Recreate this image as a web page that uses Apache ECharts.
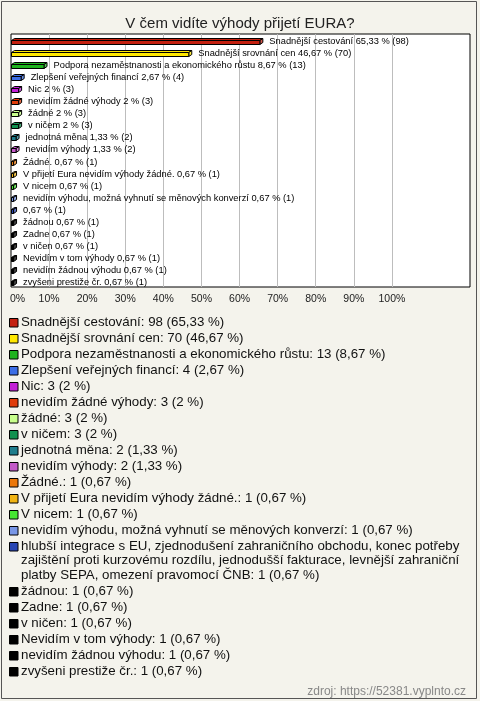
<!DOCTYPE html>
<html><head><meta charset="utf-8">
<script src="https://cdn.jsdelivr.net/npm/echarts@6/dist/echarts.min.js"></script>
<style>html,body{margin:0;padding:0;background:#f4f3ec}#c{width:480px;height:701px}</style>
</head><body><div id="c"></div>
<script>
const titleText = 'V čem vidíte výhody přijetí EURA?';
const sourceText = 'zdroj: https://52381.vyplnto.cz';
const categories = [
  'Snadnější cestování',
  'Snadnější srovnání cen',
  'Podpora nezaměstnanosti a ekonomického růstu',
  'Zlepšení veřejných financí',
  'Nic',
  'nevidím žádné výhody',
  'žádné',
  'v ničem',
  'jednotná měna',
  'nevidím výhody',
  'Žádné.',
  'V přijetí Eura nevidím výhody žádné.',
  'V nicem',
  'nevidím výhodu, možná vyhnutí se měnových konverzí',
  'hlubší integrace s EU, zjednodušení zahraničního obchodu, konec potřeby zajištění proti kurzovému rozdílu, jednodušší fakturace, levnější zahraniční platby SEPA, omezení pravomocí ČNB',
  'žádnou',
  'Zadne',
  'v ničen',
  'Nevidím v tom výhody',
  'nevidím žádnou výhodu',
  'zvyšeni prestiže čr.'
];
const counts = [98, 70, 13, 4, 3, 3, 3, 3, 2, 2, 1, 1, 1, 1, 1, 1, 1, 1, 1, 1, 1];
const percents = [65.33, 46.67, 8.67, 2.67, 2, 2, 2, 2, 1.33, 1.33, 0.67, 0.67, 0.67, 0.67, 0.67, 0.67, 0.67, 0.67, 0.67, 0.67, 0.67];
const colors = ['#c4200f', '#ffe800', '#1fb31f', '#3c6ee6', '#c21fd6', '#e03c0a', '#c8ff8c', '#129150', '#1f7d8c', '#c35ac8', '#eb780a', '#f0b414', '#46e632', '#7896e6', '#2846b4', '#000000', '#000000', '#000000', '#000000', '#000000', '#000000'];
const xTickValues = [0, 10, 20, 30, 40, 50, 60, 70, 80, 90, 100];

const FONT = '"Liberation Sans", Arial, sans-serif';
function fmt(p) { return String(p).replace('.', ','); }
function barLabel(i) {
  const n = categories[i].length > 80 ? '' : categories[i] + ' ';
  return n + fmt(percents[i]) + ' % (' + counts[i] + ')';
}
function legendLabel(i) {
  return categories[i] + ': ' + counts[i] + ' (' + fmt(percents[i]) + ' %)';
}

// word wrap with canvas measurement
const LFONT = '13.3px ' + FONT;
const mctx = document.createElement('canvas').getContext('2d');
mctx.font = LFONT;
function wrap(text, maxW) {
  const words = text.split(' ');
  const lines = [];
  let cur = '';
  words.forEach(function (w) {
    const t = cur ? cur + ' ' + w : w;
    if (cur && mctx.measureText(t).width > maxW) { lines.push(cur); cur = w; }
    else cur = t;
  });
  if (cur) lines.push(cur);
  return lines;
}

// legend built as graphic (icon aligned to first line of wrapped text)
const LH = 14.5, GAP = 1.5, TW = 455;
const legendEls = [];
let y = 314.75;
categories.forEach(function (c, i) {
  const lines = wrap(legendLabel(i), TW);
  const yc = y + LH / 2;
  legendEls.push({ type: 'rect', shape: { x: 9.5, y: Math.round(yc - 4.5) + 0.5, width: 8.5, height: 8.5 }, style: { fill: colors[i], stroke: '#000', lineWidth: 1 }, z: 10 });
  legendEls.push({ type: 'text', x: 21, y: y, style: { text: lines.join('\n'), font: LFONT, lineHeight: LH, fill: '#111', verticalAlign: 'top' }, z: 10 });
  y += lines.length * LH + GAP;
});

const XMAX = 120.5;
const splitColors = xTickValues.slice(1).map(function () { return '#bdbdbd'; }).concat(['rgba(0,0,0,0)', 'rgba(0,0,0,0)', 'rgba(0,0,0,0)']);

const chart = echarts.init(document.getElementById('c'), null, { renderer: 'canvas' });
chart.setOption({
  backgroundColor: '#f4f3ec',
  animation: false,
  title: [
    { text: titleText, left: 'center', top: 11, textStyle: { fontSize: 15, fontWeight: 'normal', color: '#222', fontFamily: FONT } },
    { text: sourceText, right: 9, top: 681, textStyle: { fontSize: 12, fontWeight: 'normal', color: '#888', fontFamily: FONT } }
  ],
  grid: { left: 11, right: 10, top: 34, bottom: 414, show: true, backgroundColor: '#fff', borderColor: '#000', borderWidth: 1 },
  xAxis: {
    type: 'value', min: 0, max: XMAX, interval: 10,
    axisLine: { show: false }, axisTick: { show: false },
    splitLine: { show: true, showMinLine: false, showMaxLine: false, lineStyle: { color: splitColors, width: 1 } },
    axisLabel: {
      margin: 7, color: '#222', fontSize: 10.5, fontFamily: FONT,
      formatter: function (v) {
        if (v === 0) return '{z|0%}';
        return xTickValues.indexOf(v) >= 0 ? v + '%' : '';
      },
      rich: { z: { fontSize: 10.5, fontFamily: FONT, color: '#222', padding: [0, 0, 0, 13] } }
    }
  },
  yAxis: {
    type: 'category', inverse: true, data: categories,
    axisLine: { show: false }, axisTick: { show: false }, axisLabel: { show: false }, splitLine: { show: false }
  },
  series: [{
    type: 'custom',
    encode: { x: 0, y: 1 },
    data: percents.map(function (p, i) { return { value: [p, i], itemStyle: { color: colors[i] } }; }),
    renderItem: function (params, api) {
      const v = api.value(0), idx = api.value(1);
      const a = api.coord([0, idx]), b = api.coord([v, idx]);
      const yc = Math.round(a[1]) + 0.5;
      const x0 = Math.round(a[0]) + 0.5, x1 = b[0];
      const col = api.visual('color');
      const d = 3, e = 2, h = 4;
      const darker = echarts.color.lift(col, 0.25);
      return {
        type: 'group',
        children: [
          { type: 'polygon', shape: { points: [[x0, yc], [x0 + d, yc - e], [x1 + d, yc - e], [x1, yc]] }, style: { fill: col, stroke: '#000', lineWidth: 1 } },
          { type: 'polygon', shape: { points: [[x1, yc], [x1 + d, yc - e], [x1 + d, yc - e + h], [x1, yc + h]] }, style: { fill: darker, stroke: '#000', lineWidth: 1 } },
          { type: 'rect', shape: { x: x0, y: yc, width: x1 - x0, height: h }, style: { fill: col, stroke: '#000', lineWidth: 1 } },
          { type: 'text', x: x1 + d + 6.5, y: yc + 1, style: { text: barLabel(params.dataIndex), fill: '#000', font: '9.3px ' + FONT, verticalAlign: 'middle' } }
        ]
      };
    }
  }],
  graphic: [
    { type: 'rect', shape: { x: 1.5, y: 1.5, width: 475, height: 697 }, style: { fill: 'none', stroke: '#555', lineWidth: 1 }, z: 20 }
  ].concat(legendEls)
});
</script></body></html>
